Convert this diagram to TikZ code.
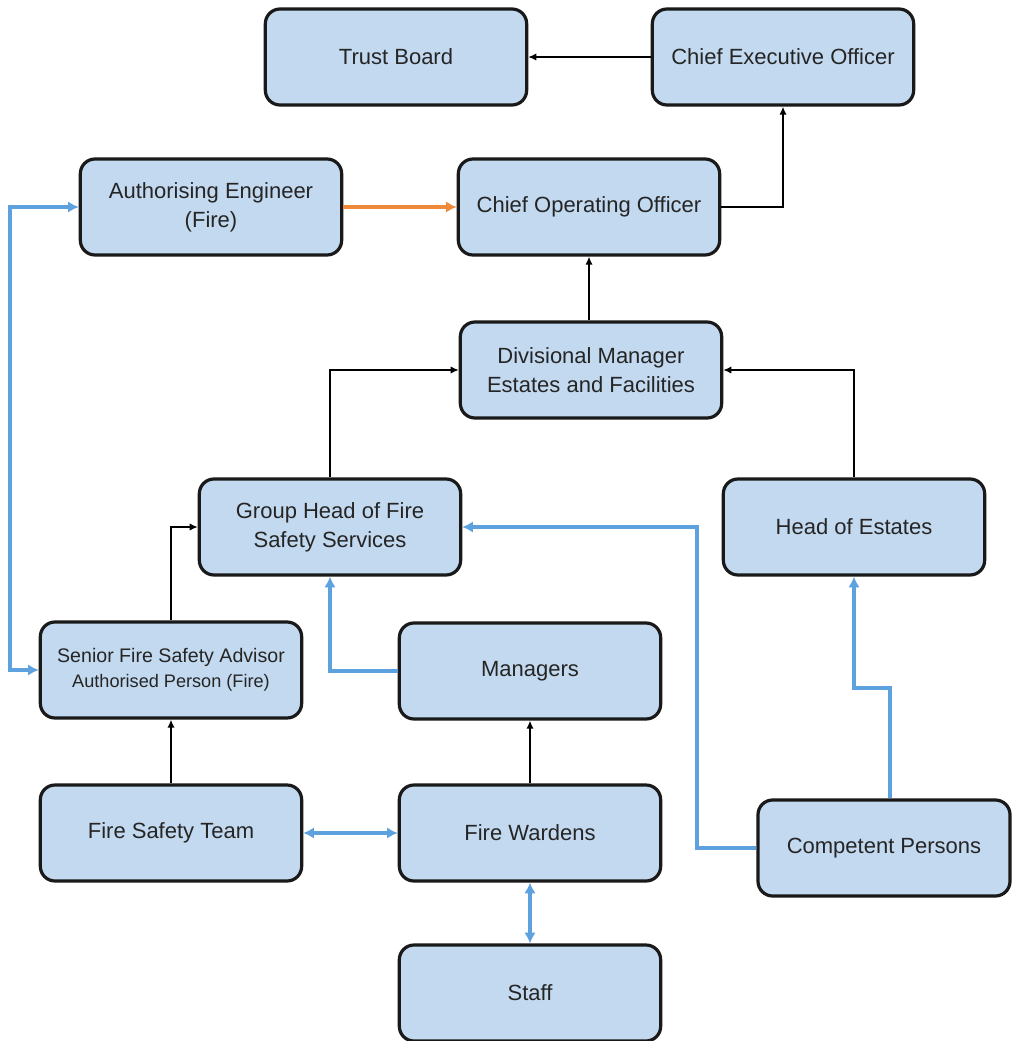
\documentclass[tikz,border=0pt]{standalone}
\usepackage{fontspec}
\setmainfont{Liberation Sans}
\usetikzlibrary{arrows.meta}
\definecolor{boxfill}{HTML}{C3D9EF}
\definecolor{txtgray}{HTML}{252525}
\definecolor{lineblue}{HTML}{5DA2DF}
\definecolor{lineorange}{HTML}{EE8A3A}
\tikzset{
  box/.style={draw=black!90, line width=2.4pt, fill=boxfill, rounded corners=11pt,
    minimum width=196pt, minimum height=72pt, align=center, text=txtgray,
    font=\fontsize{16.5}{21.5}\selectfont, inner sep=2pt},
  blk/.style={draw=black, line width=2pt, -{Latex[length=6pt,width=5.5pt]}},
  blu/.style={draw=lineblue, line width=2.5pt, -{Latex[length=8pt,width=8.5pt]}},
  bluboth/.style={draw=lineblue, line width=2.5pt, {Latex[length=8pt,width=8.5pt]}-{Latex[length=8pt,width=8.5pt]}},
  org/.style={draw=lineorange, line width=2.5pt, -{Latex[length=8pt,width=8.5pt]}},
}
\begin{document}
\begin{tikzpicture}[x=0.75pt,y=-0.75pt]
\useasboundingbox (0,0) rectangle (1011,1041);
\node[box] (tb) at (396,57) {Trust Board};
\node[box] (ceo) at (783,57) {Chief Executive Officer};
\node[box] (ae) at (211,207) {Authorising Engineer\\(Fire)};
\node[box] (coo) at (589,207) {Chief Operating Officer};
\node[box] (dm) at (591,370) {Divisional Manager\\Estates and Facilities};
\node[box] (gh) at (330,527) {Group Head of Fire\\Safety Services};
\node[box] (he) at (854,527) {Head of Estates};
\node[box, font=\fontsize{14.7}{19}\selectfont] (sfa) at (171,670) {Senior Fire Safety Advisor\\{\fontsize{13.6}{17}\selectfont Authorised Person (Fire)}};
\node[box] (mg) at (530,671) {Managers};
\node[box] (fst) at (171,833) {Fire Safety Team};
\node[box] (fw) at (530,833) {Fire Wardens};
\node[box, minimum width=189pt] (cp) at (884,848) {Competent Persons};
\node[box] (st) at (530,993) {Staff};
\coordinate (lx) at (10,0);
\coordinate (cx) at (697,0);
\coordinate (jn) at (890,688);
% black
\draw[blk] (ceo.west) -- (tb.east);
\draw[blk] (coo.east) -| (ceo.south);
\draw[blk] (dm.north -| coo.south) -- (coo.south);
\draw[blk] (gh.north) |- (dm.west);
\draw[blk] (he.north) |- (dm.east);
\draw[blk] (sfa.north) |- (gh.west);
\draw[blk] (fw.north) -- (mg.south);
\draw[blk] (fst.north) -- (sfa.south);
% orange
\draw[org] (ae.east) -- (coo.west);
% blue
\draw[bluboth] (ae.west) -- (ae.west -| lx) -- (sfa.west -| lx) -- (sfa.west);
\draw[blu] (mg.west) -| (gh.south);
\draw[blu] (cp.west) -- (cp.west -| cx) -- (gh.east -| cx) -- (gh.east);
\draw[blu] (cp.north -| jn) -- (jn) -| (he.south);
\draw[bluboth] (fst.east) -- (fw.west);
\draw[bluboth] (fw.south) -- (st.north);
\end{tikzpicture}
\end{document}
